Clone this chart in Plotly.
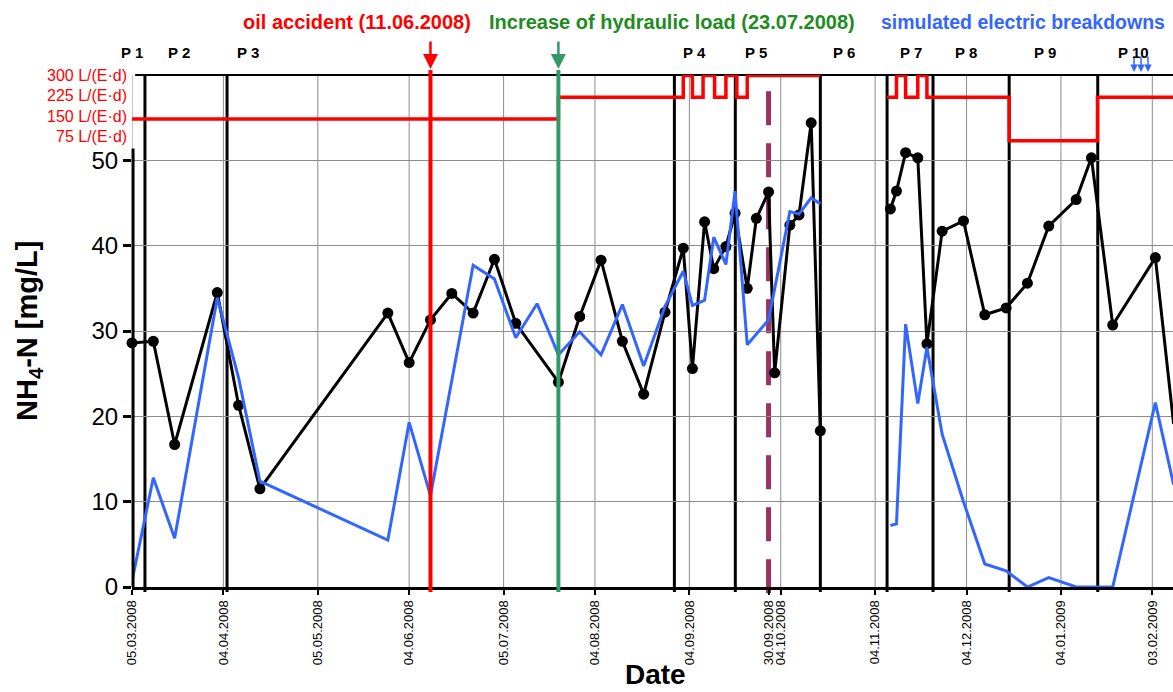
import plotly.graph_objects as go

FONT = "Arial, 'Liberation Sans', sans-serif"

# ---------------- data ----------------
black_dates = ['2008-03-05', '2008-03-12', '2008-03-19', '2008-04-02', '2008-04-09', '2008-04-16',
               '2008-05-28', '2008-06-04', '2008-06-11', '2008-06-18', '2008-06-25', '2008-07-02',
               '2008-07-09', '2008-07-23', '2008-07-30', '2008-08-06', '2008-08-13', '2008-08-20',
               '2008-08-27', '2008-09-02', '2008-09-05', '2008-09-09', '2008-09-12', '2008-09-16',
               '2008-09-19', '2008-09-23', '2008-09-26', '2008-09-30', '2008-10-02', '2008-10-07',
               '2008-10-10', '2008-10-14', '2008-10-17', '2008-10-30',
               '2008-11-09', '2008-11-11', '2008-11-14', '2008-11-18', '2008-11-21', '2008-11-26',
               '2008-12-03', '2008-12-10', '2008-12-17', '2008-12-24', '2008-12-31', '2009-01-09',
               '2009-01-14', '2009-01-21', '2009-02-04', '2009-02-10']
black_vals = [28.6, 28.8, 16.7, 34.5, 21.3, 11.5,
              32.1, 26.3, 31.3, 34.4, 32.1, 38.4,
              30.9, 24.0, 31.7, 38.3, 28.8, 22.6,
              32.2, 39.7, 25.6, 42.8, 37.3, 39.9,
              43.8, 35.0, 43.2, 46.3, 25.1, 42.4,
              43.6, 54.4, 18.3, None,
              44.3, 46.4, 50.9, 50.3, 28.5, 41.7,
              42.9, 31.9, 32.7, 35.6, 42.3, 45.4,
              50.3, 30.7, 38.6, 19.1]

blue_dates = ['2008-03-05', '2008-03-12', '2008-03-19', '2008-04-02', '2008-04-09', '2008-04-16',
              '2008-05-28', '2008-06-04', '2008-06-11', '2008-06-25', '2008-07-02', '2008-07-09',
              '2008-07-16', '2008-07-23', '2008-07-30', '2008-08-06', '2008-08-13', '2008-08-20',
              '2008-08-27', '2008-09-02', '2008-09-05', '2008-09-09', '2008-09-12', '2008-09-16',
              '2008-09-19', '2008-09-23', '2008-09-30', '2008-10-07', '2008-10-10', '2008-10-14',
              '2008-10-17', '2008-10-30',
              '2008-11-09', '2008-11-11', '2008-11-14', '2008-11-18', '2008-11-21', '2008-11-26',
              '2008-12-03', '2008-12-10', '2008-12-17', '2008-12-24', '2008-12-31', '2009-01-09',
              '2009-01-14', '2009-01-21', '2009-02-04', '2009-02-10']
blue_vals = [0.7, 12.8, 5.7, 33.9, 24.5, 12.4,
             5.5, 19.3, 10.7, 37.7, 36.1, 29.2,
             33.2, 27.2, 29.9, 27.2, 33.1, 25.9,
             32.9, 37.0, 33.0, 33.6, 41.0, 37.8,
             46.4, 28.4, 31.3, 44.0, 43.7, 45.6,
             44.9, None,
             7.2, 7.4, 30.8, 21.5, 28.1, 17.9,
             10.0, 2.7, 1.9, 0.0, 1.1, 0.0,
             0.0, 0.0, 21.6, 12.0]

# hydraulic load (L/(E·d)), step function
load_dates = ['2008-03-05', '2008-07-23', '2008-09-02', '2008-09-05', '2008-09-08 12:00',
              '2008-09-12 07:00', '2008-09-16', '2008-09-19 14:00', '2008-09-23', '2008-10-17',
              '2008-10-25',
              '2008-11-07 22:00', '2008-11-11', '2008-11-14', '2008-11-18', '2008-11-21',
              '2008-12-18', '2009-01-16', '2009-02-12']
load_vals = [150, 225, 300, 225, 300,
             225, 300, 225, 300, 300,
             None,
             225, 300, 225, 300, 225,
             75, 225, 225]
load_levels = [300, 225, 150, 75]
load_labels = ['300 L/(E·d)', '225 L/(E·d)', '150 L/(E·d)', '75 L/(E·d)']

# period boundaries and labels
period_lines = ['2008-03-09 06:00', '2008-04-05 05:00', '2008-08-30 02:00', '2008-09-19 02:00',
                '2008-10-17 00:00', '2008-11-07 22:00', '2008-11-23 00:00', '2008-12-18 00:00',
                '2009-01-16 02:00']
period_labels = ['P 1', 'P 2', 'P 3', 'P 4', 'P 5', 'P 6', 'P 7', 'P 8', 'P 9', 'P 10']

# events
oil_date = '2008-06-11'
load_increase_date = '2008-07-23'
dashed_date = '2008-09-30'
breakdown_dates = ['2009-01-28 00:00', '2009-01-30 07:00', '2009-02-01 14:00']

tick_dates = ['2008-03-05', '2008-04-04', '2008-05-05', '2008-06-04', '2008-07-05', '2008-08-04',
              '2008-09-04', '2008-09-30', '2008-10-04', '2008-11-04', '2008-12-04', '2009-01-04',
              '2009-02-03']
tick_labels = ['05.03.2008', '04.04.2008', '05.05.2008', '04.06.2008', '05.07.2008', '04.08.2008',
               '04.09.2008', '30.09.2008', '04.10.2008', '04.11.2008', '04.12.2008', '04.01.2009',
               '03.02.2009']
grid_dates = [d for d in tick_dates if d not in ('2008-09-30',)]
y_ticks = [0, 10, 20, 30, 40, 50]


def load_to_y(v):
    return None if v is None else 52.3 + (v - 75) / 75 * 2.55


# ---------------- figure ----------------
W, H = 1173, 692
ML, MR, MT, MB = 132, 0, 75, 105
PW = W - ML - MR
PH = H - MT - MB
Y_MAX = 60


def px_x(p):
    return (p - ML) / PW


def px_y(p):
    return (H - MB - p) / PH


fig = go.Figure()

fig.add_trace(go.Scatter(x=black_dates, y=black_vals, mode='lines+markers',
                         line=dict(color='black', width=3),
                         marker=dict(size=11, color='black'),
                         connectgaps=False, showlegend=False, cliponaxis=False))
fig.add_trace(go.Scatter(x=blue_dates, y=blue_vals, mode='lines',
                         line=dict(color='#3366FF', width=3),
                         connectgaps=False, showlegend=False))
fig.add_trace(go.Scatter(x=load_dates, y=[load_to_y(v) for v in load_vals], mode='lines',
                         line=dict(color='#FF0000', width=3.5, shape='hv'),
                         connectgaps=False, showlegend=False))

shapes = []
# vertical grid lines
for d in grid_dates:
    shapes.append(dict(type='line', xref='x', yref='paper', x0=d, x1=d, y0=0, y1=1,
                       line=dict(color='#8c8c8c', width=1), layer='below'))
# period boundary lines
for d in period_lines:
    shapes.append(dict(type='line', xref='x', yref='paper', x0=d, x1=d, y0=-0.01, y1=1,
                       line=dict(color='black', width=3), layer='between'))
# events
shapes.append(dict(type='line', xref='x', yref='paper', x0=oil_date, x1=oil_date, y0=-0.01, y1=1.01,
                   line=dict(color='#FF0000', width=4), layer='above'))
shapes.append(dict(type='line', xref='x', yref='paper', x0=load_increase_date, x1=load_increase_date,
                   y0=-0.01, y1=1.01, line=dict(color='#339966', width=4), layer='above'))
shapes.append(dict(type='line', xref='x', yref='paper', x0=dashed_date, x1=dashed_date, y0=-0.012, y1=1,
                   line=dict(color='#993366', width=5, dash='34px,18px'), layer='between'))
# left axis line (only up to ~51) and top frame
shapes.append(dict(type='line', xref='paper', yref='paper', x0=0.001, x1=0.001, y0=0, y1=51.4 / Y_MAX,
                   line=dict(color='black', width=3), layer='above'))
shapes.append(dict(type='line', xref='paper', yref='paper', x0=0.003, x1=1, y0=1, y1=1,
                   line=dict(color='black', width=2), layer='below'))

ann = []
# top titles
ann.append(dict(text='<b>oil accident (11.06.2008)</b>', xref='paper', yref='paper',
                x=px_x(357), y=px_y(22), showarrow=False, xanchor='center', yanchor='middle',
                font=dict(family=FONT, size=20, color='#FF0000')))
ann.append(dict(text='<b>Increase of hydraulic load (23.07.2008)</b>', xref='paper', yref='paper',
                x=px_x(672), y=px_y(22), showarrow=False, xanchor='center', yanchor='middle',
                font=dict(family=FONT, size=20, color='#1E8C1E')))
ann.append(dict(text='<b>simulated electric breakdowns</b>', xref='paper', yref='paper',
                x=px_x(1023), y=px_y(22), showarrow=False, xanchor='center', yanchor='middle',
                font=dict(family=FONT, size=19.5, color='#3366FF')))
# arrows
ann.append(dict(text='', x=oil_date, y=px_y(69), xref='x', yref='paper', showarrow=True, ax=0, ay=-29,
                arrowhead=2, arrowsize=1.2, arrowwidth=2.5, arrowcolor='#FF0000'))
ann.append(dict(text='', x=load_increase_date, y=px_y(69), xref='x', yref='paper', showarrow=True,
                ax=0, ay=-29, arrowhead=2, arrowsize=1.2, arrowwidth=2.5, arrowcolor='#339966'))
for d in breakdown_dates:
    ann.append(dict(text='', x=d, y=px_y(72), xref='x', yref='paper', showarrow=True, ax=0, ay=-17,
                    arrowhead=2, arrowsize=1, arrowwidth=1.5, arrowcolor='#3366FF'))
# period labels
p_label_px = [131.7, 179.3, 247.7, 694, 756, 844, 911, 966, 1045, 1133]
for lab, p in zip(period_labels, p_label_px):
    ann.append(dict(text='<b>' + lab + '</b>', xref='paper', yref='paper', x=px_x(p), y=px_y(52),
                    showarrow=False, xanchor='center', yanchor='middle',
                    font=dict(family=FONT, size=15, color='black')))
# load labels
load_label_px = [75, 95.5, 116, 136.5]
for lab, p in zip(load_labels, load_label_px):
    ann.append(dict(text=lab, xref='paper', yref='paper', x=px_x(129), y=px_y(p),
                    showarrow=False, xanchor='right', yanchor='middle',
                    font=dict(family=FONT, size=16, color='#FF0000')))
# axis titles
ann.append(dict(text='<b>NH<sub>4</sub>-N [mg/L]</b>', xref='paper', yref='paper',
                x=px_x(29), y=px_y(331), textangle=-90, showarrow=False,
                xanchor='center', yanchor='middle', font=dict(family=FONT, size=29, color='black')))
ann.append(dict(text='<b>Date</b>', xref='paper', yref='paper', x=px_x(655), y=px_y(692),
                showarrow=False, xanchor='center', yanchor='bottom',
                font=dict(family=FONT, size=28, color='black')))

fig.update_layout(
    width=W, height=H,
    margin=dict(l=ML, r=MR, t=MT, b=MB, pad=0),
    paper_bgcolor='white', plot_bgcolor='white',
    font=dict(family=FONT, color='black'),
    shapes=shapes, annotations=ann,
    showlegend=False,
    xaxis=dict(type='date', range=['2008-03-05', '2009-02-09 19:00'],
               tickvals=tick_dates, ticktext=tick_labels, tickangle=-90,
               tickfont=dict(family=FONT, size=13, color='black'),
               ticks='outside', ticklen=5, tickwidth=2, tickcolor='black',
               showline=True, linewidth=3, linecolor='black',
               showgrid=False, zeroline=False, fixedrange=True),
    yaxis=dict(range=[0, Y_MAX], tickvals=y_ticks, ticktext=[str(v) for v in y_ticks],
               tickfont=dict(family=FONT, size=24, color='black'),
               ticks='outside', ticklen=8, tickwidth=3, tickcolor='black',
               showline=False, showgrid=True, gridcolor='#8c8c8c', gridwidth=1,
               zeroline=False, fixedrange=True),
)

fig.write_html('out.html', config={'displayModeBar': False},
               post_script="document.body.style.margin='0';document.body.style.overflow='hidden';")
